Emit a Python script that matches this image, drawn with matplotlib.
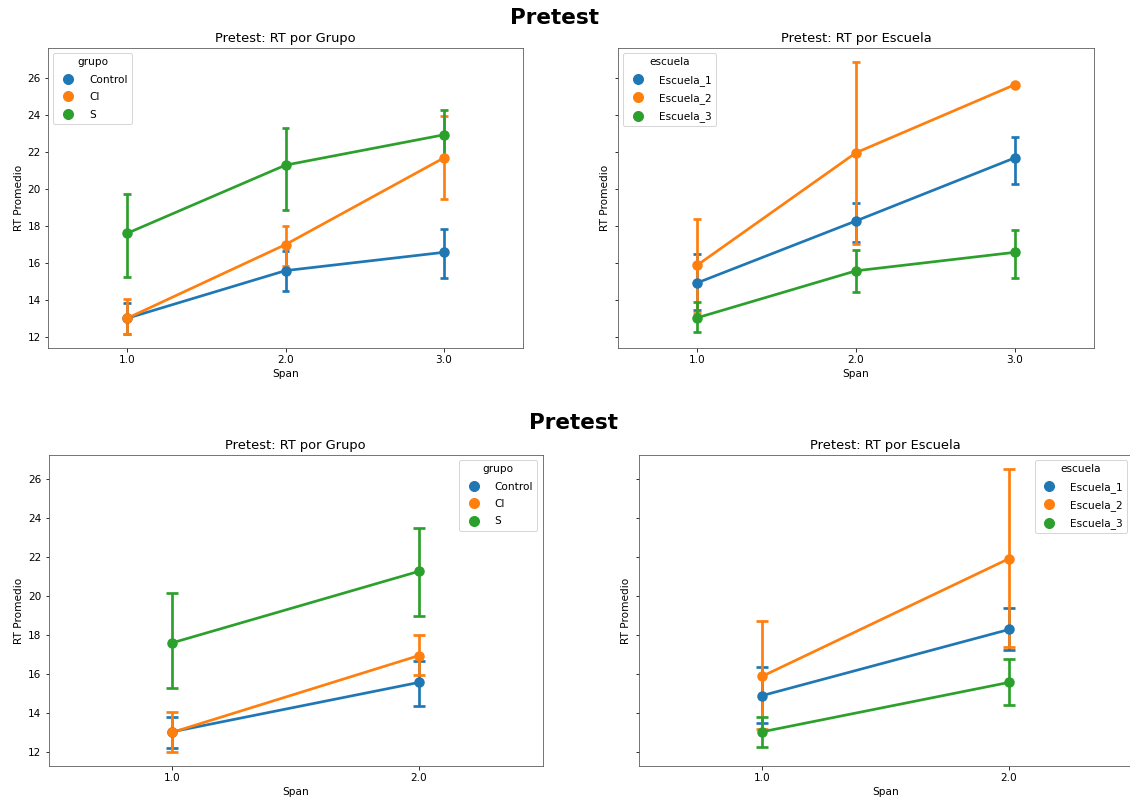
import matplotlib.pyplot as plt
import numpy as np
from matplotlib.lines import Line2D

# ---- datos ----
span_top = ["1.0", "2.0", "3.0"]
span_bot = ["1.0", "2.0"]

grupos = ["Control", "CI", "S"]
escuelas = ["Escuela_1", "Escuela_2", "Escuela_3"]

# Panel superior: RT por Grupo
grupo_mean_top = [[13.0, 15.58, 16.57], [13.0, 16.99, 21.68], [17.60, 21.29, 22.93]]
grupo_lo_top = [[12.13, 14.48, 15.19], [12.13, 15.83, 19.47], [15.25, 18.87, 21.74]]
grupo_hi_top = [[13.81, 16.66, 17.84], [14.07, 18.02, 23.95], [19.71, 23.28, 24.28]]

# Panel superior: RT por Escuela
escuela_mean_top = [[14.92, 18.27, 21.68], [15.88, 21.96, 25.64], [13.03, 15.57, 16.57]]
escuela_lo_top = [[13.47, 17.11, 20.29], [13.30, 17.02, np.nan], [12.25, 14.43, 15.19]]
escuela_hi_top = [[16.48, 19.22, 22.83], [18.38, 26.89, np.nan], [13.89, 16.70, 17.79]]

# Panel inferior: RT por Grupo
grupo_mean_bot = [[13.03, 15.57], [13.0, 16.95], [17.60, 21.28]]
grupo_lo_bot = [[12.22, 14.34], [12.0, 15.95], [15.30, 18.96]]
grupo_hi_bot = [[13.77, 16.66], [14.06, 18.01], [20.18, 23.48]]

# Panel inferior: RT por Escuela
escuela_mean_bot = [[14.89, 18.29], [15.88, 21.93], [13.03, 15.57]]
escuela_lo_bot = [[13.46, 17.26], [13.17, 17.38], [12.26, 14.41]]
escuela_hi_bot = [[16.35, 19.41], [18.75, 26.53], [13.80, 16.78]]

colores = ["#1f77b4", "#ff7f0e", "#2ca02c"]

plt.rcParams["font.size"] = 10.5
plt.rcParams["axes.edgecolor"] = "#555555"


def pointplot(ax, cats, nombres, medias, lo, hi, titulo, leyenda, loc):
    x = np.arange(len(cats))
    lw = 2.7
    cap = 0.05
    for i, nombre in enumerate(nombres):
        c = colores[i]
        for xi, l, h in zip(x, lo[i], hi[i]):
            if np.isnan(l):
                continue
            ax.plot([xi, xi], [l, h], color=c, lw=lw, solid_capstyle="butt", zorder=2)
            ax.plot([xi - cap / 2, xi + cap / 2], [l, l], color=c, lw=lw, solid_capstyle="butt", zorder=2)
            ax.plot([xi - cap / 2, xi + cap / 2], [h, h], color=c, lw=lw, solid_capstyle="butt", zorder=2)
        ax.plot(x, medias[i], color=c, lw=lw, zorder=2)
        ax.scatter(x, medias[i], s=110, color=c, linewidth=0, zorder=3)
    ax.set_xticks(x)
    ax.set_xticklabels(cats)
    ax.set_xlim(-0.5, len(cats) - 0.5)
    ax.set_title(titulo, fontsize=13)
    ax.set_xlabel("Span")
    ax.set_ylabel("RT Promedio")
    handles = [Line2D([], [], marker="o", ls="", color=colores[i], markersize=10)
               for i in range(len(nombres))]
    ax.legend(handles, nombres, title=leyenda, loc=loc, labelspacing=0.7,
              handletextpad=1.0)


fig = plt.figure(figsize=(1130 / 72, 805 / 72), dpi=72)

ax1 = fig.add_axes([48 / 1130, 1 - 348 / 805, 475 / 1130, 300 / 805])
ax2 = fig.add_axes([618 / 1130, 1 - 348 / 805, 476 / 1130, 300 / 805], sharey=ax1)
ax3 = fig.add_axes([48.5 / 1130, 1 - 766 / 805, 494 / 1130, 311 / 805])
ax4 = fig.add_axes([638.5 / 1130, 1 - 766 / 805, 494 / 1130, 311 / 805], sharey=ax3)

pointplot(ax1, span_top, grupos, grupo_mean_top, grupo_lo_top, grupo_hi_top,
          "Pretest: RT por Grupo", "grupo", "upper left")
pointplot(ax2, span_top, escuelas, escuela_mean_top, escuela_lo_top, escuela_hi_top,
          "Pretest: RT por Escuela", "escuela", "upper left")
pointplot(ax3, span_bot, grupos, grupo_mean_bot, grupo_lo_bot, grupo_hi_bot,
          "Pretest: RT por Grupo", "grupo", "upper right")
pointplot(ax4, span_bot, escuelas, escuela_mean_bot, escuela_lo_bot, escuela_hi_bot,
          "Pretest: RT por Escuela", "escuela", "upper right")

for ax in (ax2, ax4):
    ax.tick_params(labelleft=False)

fig.text(555 / 1130, 1 - 18 / 805, "Pretest", fontsize=21.5, fontweight="bold",
         ha="center", va="center")
fig.text(573 / 1130, 1 - 423 / 805, "Pretest", fontsize=21.5, fontweight="bold",
         ha="center", va="center")

fig.savefig("out.png", dpi=72)
